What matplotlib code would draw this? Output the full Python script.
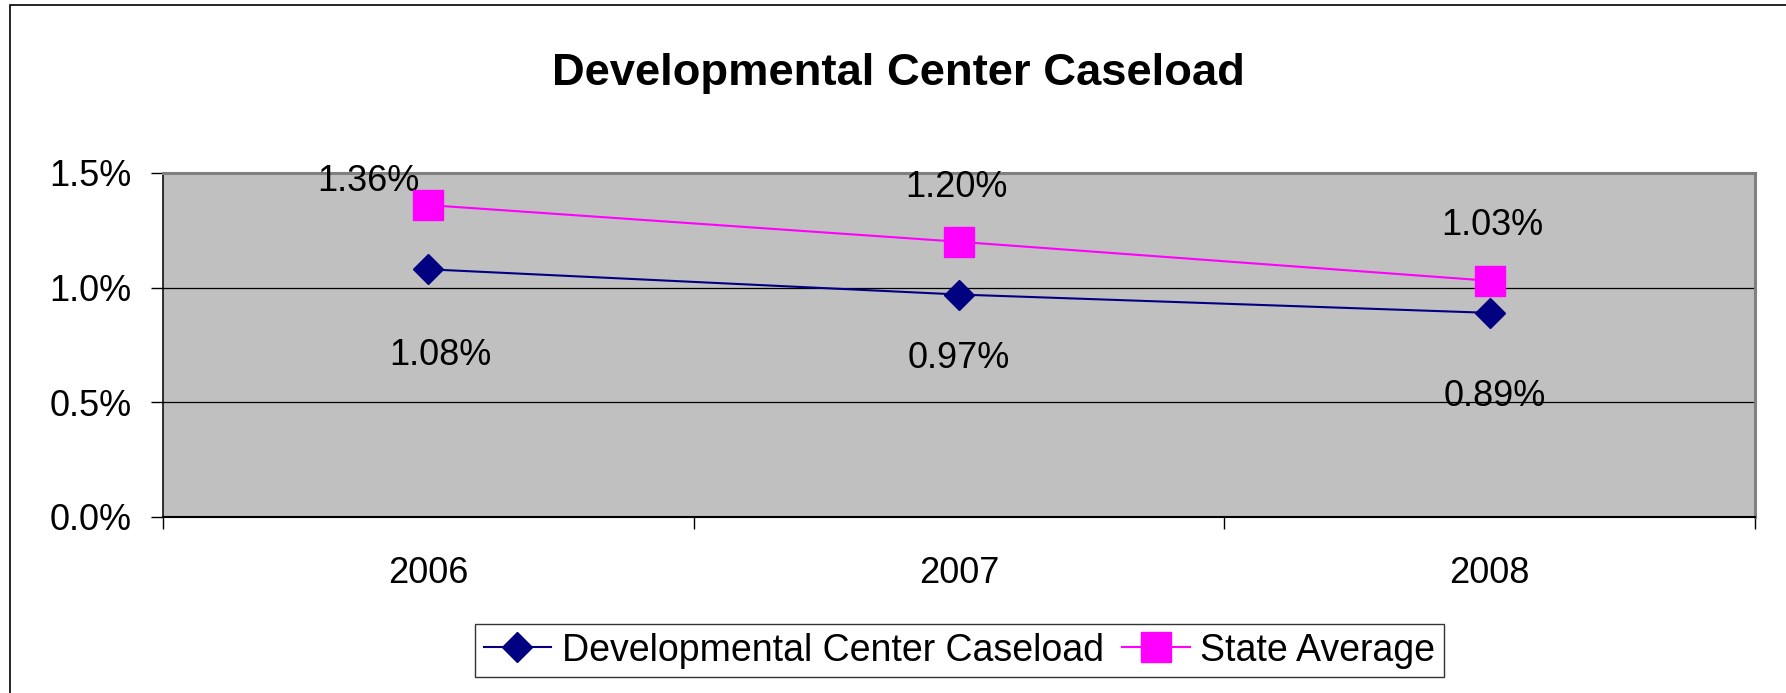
import matplotlib
matplotlib.use('Agg')
import matplotlib.pyplot as plt
from matplotlib.patches import Rectangle

# data
years = ['2006', '2007', '2008']
dev_center = [1.08, 0.97, 0.89]
state_avg = [1.36, 1.20, 1.03]
y_ticks = [0.0, 0.5, 1.0, 1.5]

# label offsets (points) as placed in the original
dev_offsets = [(9, -62), (0, -46), (4, -60)]
state_offsets = [(-43, 17), (-2, 39), (2, 40)]

plt.rcParams['font.family'] = ['Liberation Sans', 'DejaVu Sans']

fig = plt.figure(figsize=(17.86, 6.93), dpi=100)
ax = fig.add_axes([0.0913, 0.2540, 0.8913, 0.4964])
ax.set_facecolor('#C0C0C0')

x = list(range(len(years)))
ax.plot(x, dev_center, color='#000080', lw=1.5, marker='D', ms=14.8,
        markerfacecolor='#000080', markeredgecolor='#000080',
        label='Developmental Center Caseload', zorder=4)
ax.plot(x, state_avg, color='#FF00FF', lw=1.5, marker='s', ms=21,
        markerfacecolor='#FF00FF', markeredgecolor='#FF00FF',
        label='State Average', zorder=4)

for i, v in enumerate(dev_center):
    ax.annotate(f'{v:.2f}%', (x[i], v), xytext=dev_offsets[i],
                textcoords='offset points', ha='center', va='center', fontsize=26)
for i, v in enumerate(state_avg):
    ax.annotate(f'{v:.2f}%', (x[i], v), xytext=state_offsets[i],
                textcoords='offset points', ha='center', va='center', fontsize=26)

ax.set_xlim(-0.5, len(years) - 0.5)
ax.set_ylim(0, 1.5)
ax.set_yticks(y_ticks)
ax.set_yticklabels([f'{t:.1f}%' for t in y_ticks])
ax.set_xticks(x)
ax.set_xticklabels(years)
ax.set_xticks([i - 0.5 for i in range(len(years) + 1)], minor=True)
ax.tick_params(axis='x', which='major', length=0, pad=28, labelsize=26)
ax.tick_params(axis='x', which='minor', length=8.6, width=1, direction='out')
ax.tick_params(axis='y', length=8.6, width=1, direction='out', pad=14, labelsize=26)

for yv in [0.5, 1.0]:
    ax.axhline(yv, color='black', lw=0.9, zorder=1)

ax.spines['left'].set_color('black')
ax.spines['bottom'].set_color('black')
ax.spines['left'].set_linewidth(1.1)
ax.spines['bottom'].set_linewidth(1.5)
ax.spines['top'].set_color('#808080')
ax.spines['right'].set_color('#808080')
ax.spines['top'].set_linewidth(2.2)
ax.spines['right'].set_linewidth(2.2)

fig.text(0.503, 1 - 73 / 693, 'Developmental Center Caseload', ha='center', va='center',
         fontsize=32.7, fontweight='bold')

leg = fig.legend(loc='center', bbox_to_anchor=(0.5372, 0.0613), ncol=2, fontsize=27,
                 frameon=True, fancybox=False, edgecolor='black', handlelength=1.8,
                 handletextpad=0.28, columnspacing=0.5, borderpad=0.22)
leg.get_frame().set_linewidth(1)

# chart border (extends past the bottom/right of the image)
fig.patches.append(Rectangle((10 / 1786, -0.2), 1.2, 0.2 + 1 - 5 / 693, transform=fig.transFigure,
                             fill=False, edgecolor='black', lw=1.2))

fig.savefig('out.png', dpi=100)
